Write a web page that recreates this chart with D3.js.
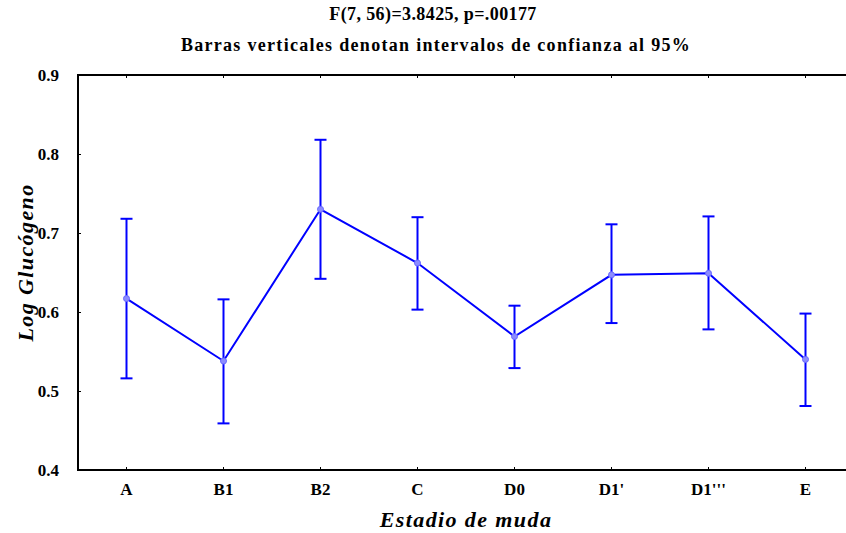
<!DOCTYPE html>
<html>
<head>
<meta charset="utf-8">
<style>
  body { margin: 0; background: #fff; }
  svg { display: block; }
</style>
<script src="https://cdn.jsdelivr.net/npm/d3@7"></script>
</head>
<body>
<div id="chart"></div>
<script>
// data
const stages = ["A", "B1", "B2", "C", "D0", "D1'", "D1'''", "E"];
const means  = [0.617, 0.538, 0.730, 0.662, 0.569, 0.647, 0.649, 0.540];
const lower  = [0.516, 0.459, 0.642, 0.603, 0.529, 0.586, 0.578, 0.481];
const upper  = [0.718, 0.616, 0.818, 0.720, 0.608, 0.711, 0.721, 0.598];
const yTicks = [0.4, 0.5, 0.6, 0.7, 0.8, 0.9];

const W = 846, H = 533;
const mLeft = 78, mTop = 75, mBottom = 470, mRight = 78 + 97 * stages.length;
const blue = "#0000ff";
const serif = "Liberation Serif";

const x = d3.scaleBand().domain(stages).range([mLeft, mRight]);
const cx = d => x(d) + x.bandwidth() / 2;
const y = d3.scaleLinear().domain([0.4, 0.9]).range([mBottom, mTop]);

const rows = stages.map((s, i) => ({ s, m: means[i], lo: lower[i], hi: upper[i] }));

const svg = d3.select("#chart").append("svg")
  .attr("width", W).attr("height", H);

// titles
svg.append("text").attr("x", 433).attr("y", 20).attr("text-anchor", "middle")
  .attr("font-family", serif).attr("font-weight", "bold")
  .attr("font-size", 18).attr("letter-spacing", 0.4).text("F(7, 56)=3.8425, p=.00177");
svg.append("text").attr("x", 436).attr("y", 51).attr("text-anchor", "middle")
  .attr("font-family", serif).attr("font-weight", "bold")
  .attr("font-size", 18).attr("letter-spacing", 1.3).text("Barras verticales denotan intervalos de confianza al 95%");

// frame
svg.append("rect").attr("x", mLeft).attr("y", mTop)
  .attr("width", mRight - mLeft).attr("height", mBottom - mTop)
  .attr("fill", "none").attr("stroke", "#000").attr("stroke-width", 2);

// axes
const yAxis = svg.append("g").attr("transform", `translate(${mLeft},0)`)
  .call(d3.axisLeft(y).tickValues(yTicks).tickFormat(d3.format(".1f")).tickSizeInner(-3).tickSizeOuter(0).tickPadding(19));
yAxis.select(".domain").remove();
yAxis.selectAll("line").attr("stroke", "#000");
yAxis.selectAll("text").attr("font-size", 17).attr("fill", "#000")
  .attr("font-family", serif).attr("font-weight", "bold");

const xAxis = svg.append("g").attr("transform", `translate(0,${mBottom})`)
  .call(d3.axisBottom(x).tickSizeInner(-3).tickSizeOuter(0).tickPadding(13));
xAxis.select(".domain").remove();
xAxis.selectAll("line").attr("stroke", "#000");
xAxis.selectAll("text").attr("font-size", 17).attr("fill", "#000")
  .attr("font-family", serif).attr("font-weight", "bold");

const xTop = svg.append("g").attr("transform", `translate(0,${mTop})`)
  .call(d3.axisTop(x).tickSizeInner(-3).tickSizeOuter(0).tickFormat(""));
xTop.select(".domain").remove();
xTop.selectAll("line").attr("stroke", "#000");

// axis titles
svg.append("text").attr("x", 466).attr("y", 527).attr("text-anchor", "middle")
  .attr("font-family", serif).attr("font-weight", "bold").attr("font-style", "italic")
  .attr("font-size", 22).attr("letter-spacing", 1.4).text("Estadio de muda");
svg.append("text").attr("transform", `translate(33,${(mTop + mBottom) / 2 - 10}) rotate(-90)`)
  .attr("text-anchor", "middle").attr("font-family", serif).attr("font-weight", "bold")
  .attr("font-size", 22).attr("font-style", "italic").attr("letter-spacing", 1.4)
  .text("Log Glucógeno");

// error bars
const g = svg.append("g");
g.selectAll(".err").data(rows).join("line").attr("class", "err")
  .attr("x1", d => cx(d.s)).attr("x2", d => cx(d.s))
  .attr("y1", d => y(d.lo)).attr("y2", d => y(d.hi))
  .attr("stroke", blue).attr("stroke-width", 2);
g.selectAll(".capHi").data(rows).join("line").attr("class", "capHi")
  .attr("x1", d => cx(d.s) - 6).attr("x2", d => cx(d.s) + 6)
  .attr("y1", d => y(d.hi)).attr("y2", d => y(d.hi))
  .attr("stroke", blue).attr("stroke-width", 2);
g.selectAll(".capLo").data(rows).join("line").attr("class", "capLo")
  .attr("x1", d => cx(d.s) - 6).attr("x2", d => cx(d.s) + 6)
  .attr("y1", d => y(d.lo)).attr("y2", d => y(d.lo))
  .attr("stroke", blue).attr("stroke-width", 2);

// mean line
g.append("path").datum(rows)
  .attr("d", d3.line().x(d => cx(d.s)).y(d => y(d.m)))
  .attr("fill", "none").attr("stroke", blue).attr("stroke-width", 2);

g.selectAll(".pt").data(rows).join("circle").attr("class", "pt")
  .attr("cx", d => cx(d.s)).attr("cy", d => y(d.m)).attr("r", 3)
  .attr("fill", "#8c8cff").attr("stroke", "#6a6aff").attr("stroke-width", 1);
</script>
</body>
</html>
